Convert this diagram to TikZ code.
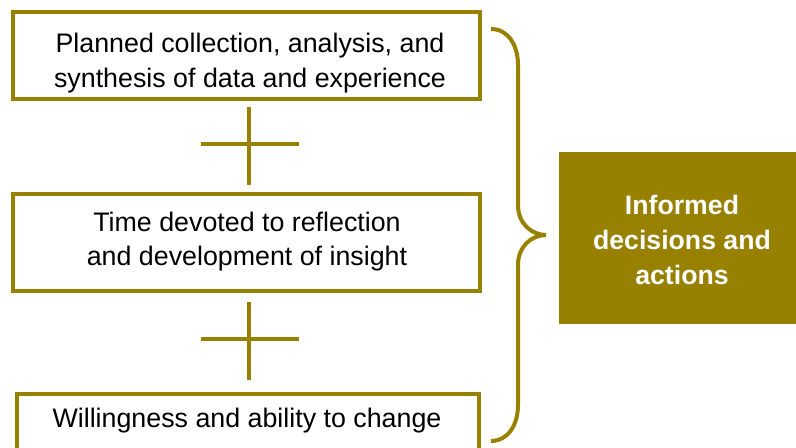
\documentclass[tikz,border=0pt]{standalone}
\usepackage{fontspec}
\setmainfont{Liberation Sans}
\definecolor{ochre}{RGB}{152,128,0}
\begin{document}
\begin{tikzpicture}[x=0.75pt,y=-0.75pt,
  box/.style={draw=ochre, line width=3pt, inner sep=0pt},
  txt/.style={anchor=base, inner sep=0pt, font=\fontsize{20.1}{26}\selectfont},
  wtxt/.style={txt, text=white, font=\fontsize{20}{26}\selectfont\bfseries},
  plusline/.style={draw=ochre, line width=3pt},
  brace/.style={draw=ochre, line width=3pt}]
\useasboundingbox (0,0) rectangle (796,448);
% boxes
\node[box, minimum width=350.25pt, minimum height=65.25pt] (b1) at (246.5,56) {};
\node[box, minimum width=350.25pt, minimum height=73.1pt] (b2) at (246.5,242.25) {};
\node[box, minimum width=346.5pt, minimum height=57pt] (b3) at (248,432) {};
\node[fill=ochre, inner sep=0pt, minimum width=180.75pt, minimum height=129pt] (res) at (679.5,238) {};
% texts
\node[txt] (t1a) at (250,53) {Planned collection, analysis, and};
\node[txt] (t1b) at (250,88) {synthesis of data and experience};
\node[txt] (t2a) at (247,232) {Time devoted to reflection};
\node[txt] (t2b) at (247,266) {and development of insight};
\node[txt] (t3) at (247,428) {Willingness and ability to change};
\node[wtxt] (r1) at (682,215) {Informed};
\node[wtxt] (r2) at (682,250) {decisions and};
\node[wtxt] (r3) at (682,285) {actions};
% plus signs
\draw[plusline] (249,107) -- (249,185);
\draw[plusline] (201,144) -- (299,144);
\draw[plusline] (249,302) -- (249,380);
\draw[plusline] (201,339) -- (299,339);
% brace
\draw[brace] (491,29) .. controls (508,29) and (518,45) .. (518,65) -- (518,205)
  .. controls (518,224) and (532,235) .. (546,235)
  .. controls (532,235) and (518,246) .. (518,265) -- (518,405)
  .. controls (518,425) and (508,441) .. (491,441);
\end{tikzpicture}
\end{document}
